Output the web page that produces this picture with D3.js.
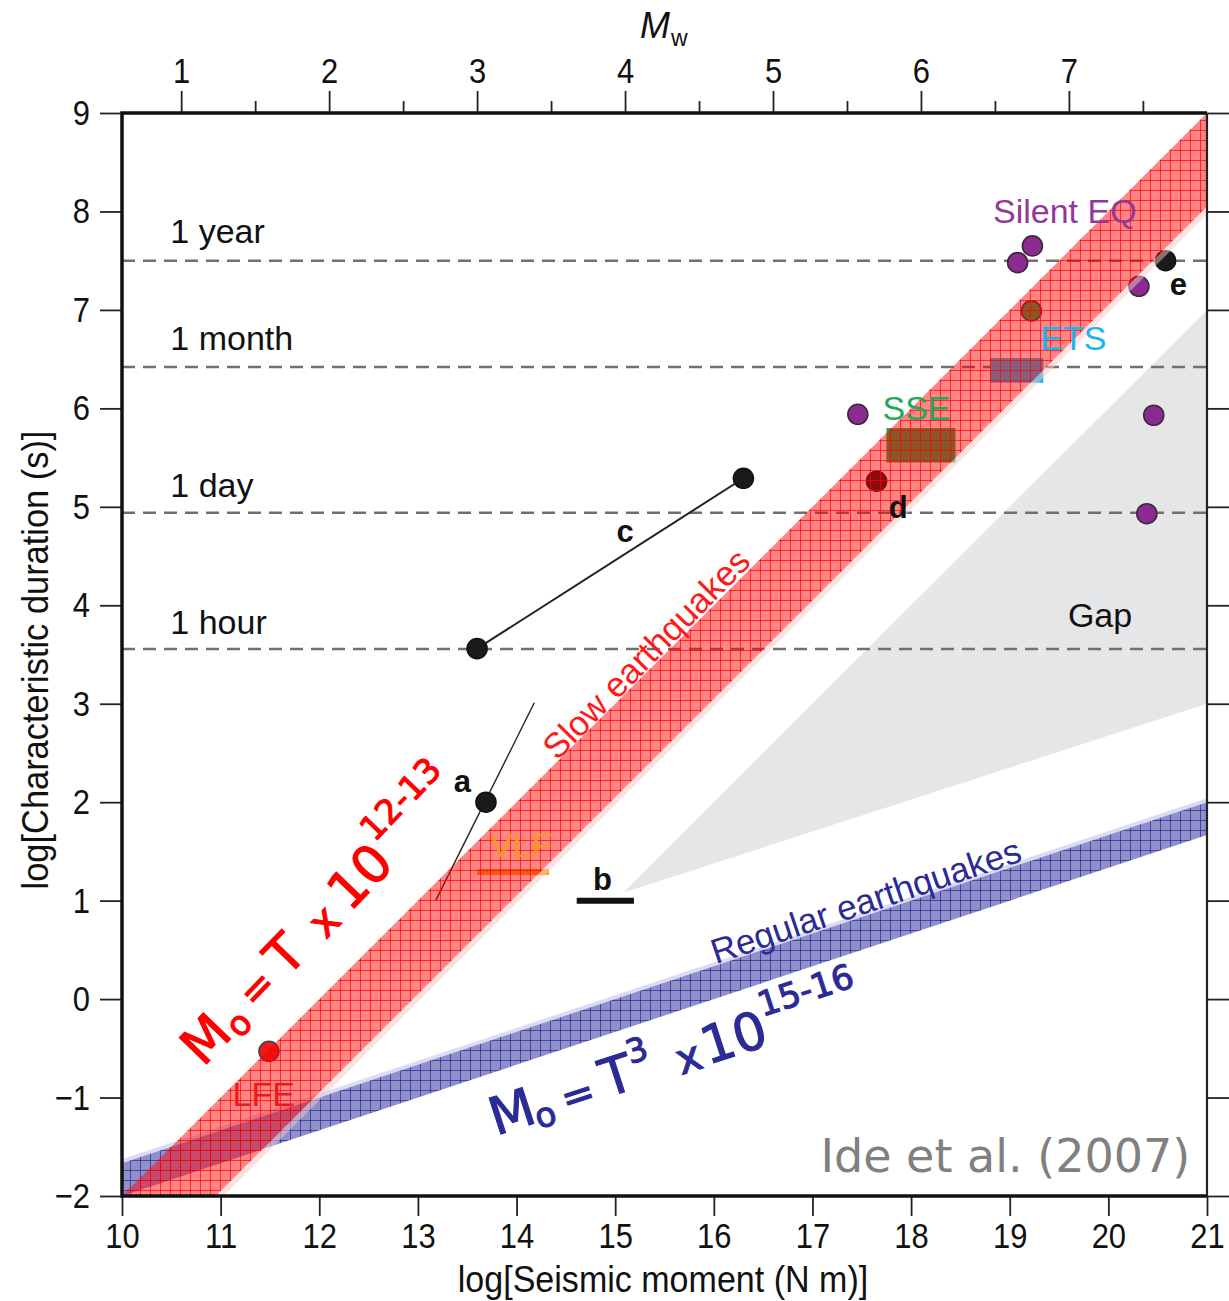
<!DOCTYPE html>
<html><head><meta charset="utf-8">
<script src="https://cdn.jsdelivr.net/npm/d3@7"></script>
<style>
body{margin:0;background:#fff}
svg{display:block}
.sans{font-family:"Liberation Sans",Arial,Helvetica,sans-serif}
.hand{font-family:"DejaVu Sans",sans-serif}
</style>
</head><body>
<svg id="chart" width="1229" height="1301" class="sans"></svg>
<script>
// ---------------- DATA ----------------
const xTicks = [10,11,12,13,14,15,16,17,18,19,20,21];
const yTicks = [-2,-1,0,1,2,3,4,5,6,7,8,9];
const mwTicks = [1,2,3,4,5,6,7];
const mwMinorTicks = [1.5,2.5,3.5,4.5,5.5,6.5,7.5];
const durationNames = ["1 year","1 month","1 day","1 hour"];
const durationValues = [7.50, 6.42, 4.94, 3.556];
// log M0 = log T + [12, 13]  (slow) ; log M0 = 3 log T + [15, 16] (regular)
const slowOffsets = [12, 12.95];
const regularOffsets = [15, 16];
const silentEQ = [[19.08,7.48],[19.23,7.65],[20.31,7.24],[17.46,5.94],[20.46,5.93],[20.39,4.93]];
const sseRect = [[17.75,5.45],[18.45,5.80]];
const ssePoint = [[19.22,6.99]];
const etsRect = [[18.80,6.26],[19.34,6.51]];
const vlfBar = [[13.60,1.29],[14.33,1.29]];
const lfePoint = [[11.49,-0.53]];
const lineA = [[13.18,1.0],[14.18,3.01]];
const pointA = [[13.69,2.0]];
const barB = [[14.61,1.0],[15.19,1.0]];
const lineC = [[13.60,3.56],[16.30,5.29]];
const pointE = [[20.58,7.50]];
const pointD = [[17.65,5.26]];
const gapRegion = [[15.08,1.08],[21,7.0],[21,3.0]];

// ---------------- LAYOUT ----------------
const svg = d3.select("#chart");
const L=122,R=1207,T=113,B=1196;
const x = d3.scaleLinear([10,21],[L,R]);
const y = d3.scaleLinear([-2,9],[B,T]);
const mw = d3.scaleLinear([(10-9.1)/1.5,(21-9.1)/1.5],[L,R]);

const defs = svg.append("defs");
defs.append("clipPath").attr("id","plot").append("rect")
  .attr("x",L).attr("y",T).attr("width",R-L).attr("height",B-T);

function gridPattern(id, fill, line, dither){
  const p = defs.append("pattern").attr("id",id).attr("patternUnits","userSpaceOnUse")
    .attr("width",10).attr("height",10);
  p.append("rect").attr("width",10).attr("height",10).attr("fill",fill);
  for(let i=0;i<10;i+=2){ for(let j=0;j<10;j+=2){
    p.append("rect").attr("x",i).attr("y",j).attr("width",1).attr("height",1).attr("fill",dither);
    p.append("rect").attr("x",i+1).attr("y",j+1).attr("width",1).attr("height",1).attr("fill",dither);
  }}
  p.append("rect").attr("x",0).attr("y",0).attr("width",10).attr("height",1).attr("fill",line);
  p.append("rect").attr("x",0).attr("y",0).attr("width",1).attr("height",10).attr("fill",line);
}
gridPattern("redGrid","rgba(255,0,0,0.45)","rgba(255,0,0,0.7)","rgba(255,0,0,0.1)");
gridPattern("blueGrid","rgba(45,45,160,0.5)","rgba(30,30,140,0.65)","rgba(30,30,140,0.1)");

const plot = svg.append("g").attr("clip-path","url(#plot)");

// Gap
plot.append("path").attr("d", d3.line().x(d=>x(d[0])).y(d=>y(d[1]))(gapRegion)+"Z")
  .attr("fill","#e5e6e8");

// dashed duration lines
plot.selectAll("line.dur").data(durationValues).join("line")
  .attr("x1",x(10)).attr("x2",x(21)).attr("y1",d=>y(d)).attr("y2",d=>y(d))
  .attr("stroke","#707070").attr("stroke-width",2.6).attr("stroke-dasharray","13,8");
const durLabelPos = [[10.49,7.68],[10.49,6.59],[10.49,5.10],[10.49,3.71]];
svg.selectAll("text.dur").data(durationNames).join("text")
  .attr("x",(d,i)=>x(durLabelPos[i][0])).attr("y",(d,i)=>y(durLabelPos[i][1]))
  .attr("font-size",34).attr("fill","#111").text(d=>d);

const line = d3.line().x(d=>x(d[0])).y(d=>y(d[1]));

// marks
function rect(r, fill){
  plot.append("rect").attr("x",x(r[0][0])).attr("y",y(r[1][1]))
    .attr("width",x(r[1][0])-x(r[0][0])).attr("height",y(r[0][1])-y(r[1][1])).attr("fill",fill);
}
rect(sseRect,"#1fa84f");
rect(etsRect,"#1ab4ee");
plot.append("path").attr("d",line(vlfBar)).attr("stroke","#f5a21f").attr("stroke-width",6);
plot.append("path").attr("d",line(barB)).attr("stroke","#111").attr("stroke-width",6);
plot.append("path").attr("d",line(lineA)).attr("stroke","#222").attr("stroke-width",1.4);
plot.append("path").attr("d",line(lineC)).attr("stroke","#222").attr("stroke-width",2);

function pts(data, fill, stroke){
  plot.selectAll(null).data(data).join("circle")
    .attr("cx",d=>x(d[0])).attr("cy",d=>y(d[1])).attr("r",10)
    .attr("fill",fill).attr("stroke",stroke).attr("stroke-width",1.6);
}
pts(silentEQ,"#8b2a90","#3a2a3a");
pts(ssePoint,"#1fa84f","#333");
pts(lfePoint,"#ee1a1a","#444");
pts(lineC,"#1a1a1a","#111");
pts(pointA,"#1a1a1a","#111");
pts(pointE,"#1a1a1a","#111");
pts(pointD,"#1a1a1a","#111");

// labels
const labels = [
  {t:"Silent EQ", x:18.83, y:7.88, c:"#93379a"},
  {t:"SSE", x:17.71, y:5.88, c:"#22a85a"},
  {t:"ETS", x:19.31, y:6.59, c:"#1ab4ee"},
  {t:"LFE", x:11.12, y:-1.09, c:"#ee1a1a"},
  {t:"VLF", x:13.73, y:1.44, c:"#f29a22"},
  {t:"Gap", x:19.59, y:3.78, c:"#111"}
];
svg.selectAll("text.lab").data(labels).join("text")
  .attr("x",d=>x(d.x)).attr("y",d=>y(d.y)).attr("fill",d=>d.c)
  .attr("font-size",34).text(d=>d.t);
const letters = [
  {t:"a",x:13.45,y:2.10},{t:"b",x:14.87,y:1.11},{t:"c",x:15.10,y:4.64},
  {t:"d",x:17.87,y:4.89},{t:"e",x:20.71,y:7.15}
];
svg.selectAll("text.let").data(letters).join("text")
  .attr("x",d=>x(d.x)).attr("y",d=>y(d.y)).attr("text-anchor","middle")
  .attr("font-size",31).attr("font-weight","bold").attr("fill","#111").text(d=>d.t);

svg.append("text").attr("transform",`translate(${x(15.40)},${y(3.42)}) rotate(-45.5)`)
  .attr("text-anchor","middle").attr("font-size",35).attr("fill","#ff1a1a").text("Slow earthquakes");
svg.append("text").attr("transform",`translate(${x(17.58)},${y(0.88)}) rotate(-18.6)`)
  .attr("text-anchor","middle").attr("font-size",35).attr("fill","#2b2b96").text("Regular earthquakes");

// bands
function band(f1, f2, fill){
  const xs=[9,22];
  const pts=[...xs.map(v=>[v,f1(v)]), ...xs.slice().reverse().map(v=>[v,f2(v)])];
  return plot.append("path").attr("d",line(pts)+"Z").attr("fill",fill);
}
band(v=>(v-regularOffsets[0])/3+0.04, v=>(v-regularOffsets[0])/3, "rgba(190,190,235,0.55)");
band(v=>(v-regularOffsets[0])/3, v=>(v-regularOffsets[1])/3, "url(#blueGrid)");
band(v=>v-slowOffsets[1], v=>v-slowOffsets[1]-0.08, "rgba(250,200,200,0.5)");
band(v=>v-slowOffsets[0], v=>v-slowOffsets[1], "url(#redGrid)");

// formulas
function formula(px, py, ang, color, pieces){
  const g = svg.append("g").attr("class","hand")
    .attr("transform",`translate(${x(px)},${y(py)}) rotate(${ang})`);
  g.selectAll("text").data(pieces).join("text")
    .attr("x",d=>d.a).attr("y",d=>-d.u).attr("text-anchor","middle")
    .attr("dominant-baseline","central")
    .attr("font-size",d=>d.s).attr("fill",color)
    .attr("stroke",color).attr("stroke-width",1.1).text(d=>d.t);
}
formula(10.849,-0.406,-46,"#ff0000",[
  {t:"M",a:0,u:0,s:52},{t:"o",a:34,u:-13,s:34},{t:"=",a:72,u:-1,s:40},
  {t:"T",a:116,u:2,s:52},{t:"x",a:167,u:-3,s:42},{t:"10",a:224,u:2,s:52},
  {t:"12-13",a:308,u:27,s:34}
]);
formula(13.951,-1.144,-18,"#2b2b96",[
  {t:"M",a:0,u:0,s:52},{t:"o",a:31,u:-13,s:34},{t:"=",a:68,u:-4,s:40},
  {t:"T",a:111,u:2,s:52},{t:"3",a:138,u:20,s:33},{t:"x",a:185,u:-3,s:42},
  {t:"10",a:234,u:2,s:52},{t:"15-16",a:317,u:25,s:34}
]);

svg.append("text").attr("class","hand").attr("x",x(20.83)).attr("y",y(-1.76)).attr("text-anchor","end")
  .attr("font-size",46).attr("fill","#808080")
  .text("Ide et al. (2007)");

// axes
function styleAxis(g){
  g.select(".domain").remove();
  g.attr("font-family",null);
  g.selectAll(".tick line").attr("stroke","#222").attr("stroke-width",1.8);
  g.selectAll(".tick text").attr("font-size",36).attr("fill","#111");
}
const sc = 0.86;
const gb = svg.append("g").attr("transform",`translate(0,${B})`)
  .call(d3.axisBottom(x).tickValues(xTicks).tickSize(20).tickPadding(6).tickSizeOuter(0)).call(styleAxis);
gb.selectAll(".tick text").attr("transform",`scale(${sc},1)`);
const gl = svg.append("g").attr("transform",`translate(${L},0)`)
  .call(d3.axisLeft(y).tickValues(yTicks).tickSize(22).tickPadding(10).tickSizeOuter(0)).call(styleAxis);
gl.selectAll(".tick text").attr("transform",`scale(${sc},1)`).attr("x",-32/sc);
svg.append("g").attr("transform",`translate(${R},0)`)
  .call(d3.axisRight(y).tickValues(yTicks).tickSize(22).tickFormat("").tickSizeOuter(0)).call(styleAxis);
const gt = svg.append("g").attr("transform",`translate(0,${T})`)
  .call(d3.axisTop(mw).tickValues(mwTicks).tickSize(22).tickPadding(8).tickSizeOuter(0)).call(styleAxis);
gt.selectAll(".tick text").attr("transform",`scale(${sc},1)`);
svg.append("g").attr("transform",`translate(0,${T})`)
  .call(d3.axisTop(mw).tickValues(mwMinorTicks).tickSize(12).tickFormat("").tickSizeOuter(0)).call(styleAxis);

// frame
svg.append("path").attr("d",`M${R},${T}H${L}V${B}H${R}`).attr("fill","none")
  .attr("stroke","#111").attr("stroke-width",3.5);
svg.append("line").attr("x1",R).attr("x2",R).attr("y1",T).attr("y2",B)
  .attr("stroke","#222").attr("stroke-width",2.2);

// titles
svg.append("text").attr("transform","translate(663,1292) scale(0.92,1)").attr("text-anchor","middle")
  .attr("font-size",37).attr("fill","#111").text("log[Seismic moment (N m)]");
svg.append("text").attr("transform","translate(48,660) rotate(-90) scale(0.93,1)").attr("text-anchor","middle")
  .attr("font-size",37).attr("fill","#111").text("log[Characteristic duration (s)]");
const mt = svg.append("text").attr("x",640).attr("y",38).attr("fill","#111");
mt.append("tspan").attr("font-size",36).attr("font-style","italic").text("M");
mt.append("tspan").attr("font-size",23).attr("dy",8).attr("dx",1).text("w");
</script>
</body></html>
